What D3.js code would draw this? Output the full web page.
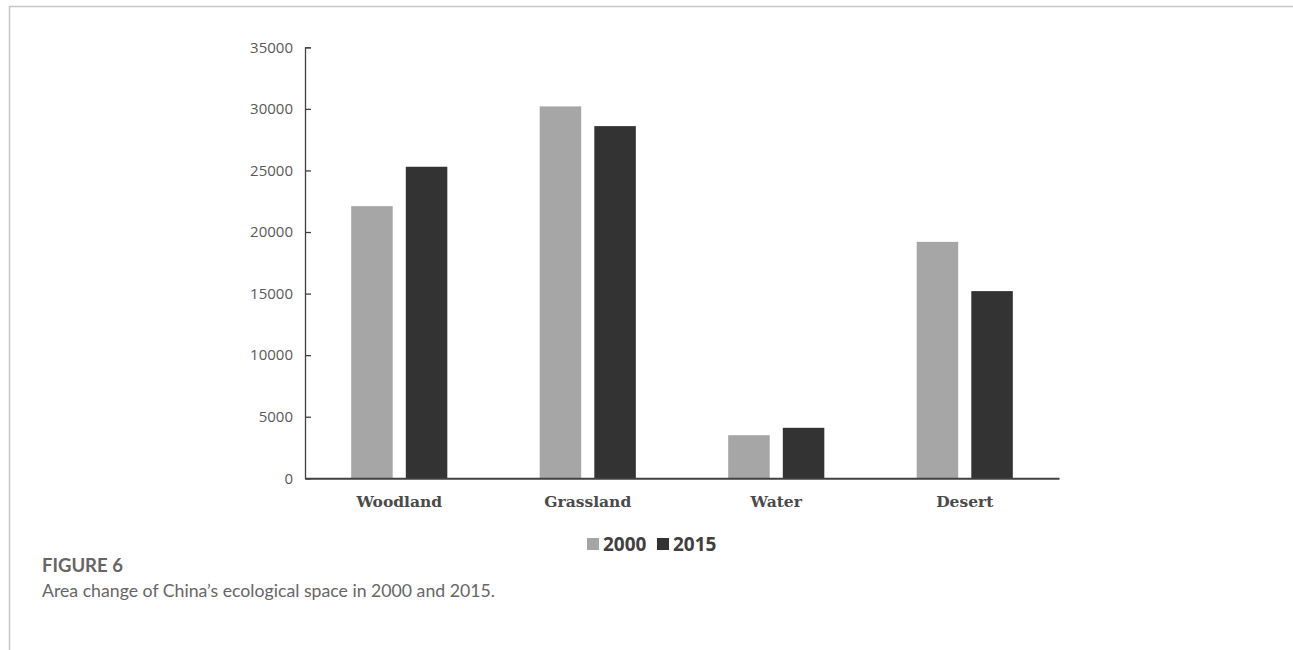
<!DOCTYPE html>
<html>
<head>
<meta charset="utf-8">
<script src="https://cdn.jsdelivr.net/npm/d3@7"></script>
<style>
  body { margin: 0; background: #fff; }
  svg { display: block; }
</style>
</head>
<body>
<div id="chart"></div>
<script>
// data
const categories = ["Woodland", "Grassland", "Water", "Desert"];
const years = ["2000", "2015"];
const values2000 = [22100, 30200, 3500, 19200];
const values2015 = [25300, 28600, 4100, 15200];
const yTicks = [0, 5000, 10000, 15000, 20000, 25000, 30000, 35000];

const W = 1293, H = 650;
const colors = { "2000": "#a6a6a6", "2015": "#333333" };

const svg = d3.select("#chart").append("svg")
    .attr("width", W)
    .attr("height", H);

// page frame (top + left rule)
svg.append("path")
    .attr("d", "M9.5,650 V6.5 H1293")
    .attr("fill", "none")
    .attr("stroke", "#c8c8c8")
    .attr("stroke-width", 1.5);

const plotLeft = 305, plotRight = 1059, plotTop = 47.3, plotBottom = 478.3;

const x = d3.scaleBand().domain(categories).range([plotLeft, plotRight])
    .paddingInner(0.49).paddingOuter(0.245);
const xs = d3.scaleBand().domain(years).range([0, x.bandwidth()])
    .paddingInner(0.24);
const y = d3.scaleLinear().domain([0, 35000]).range([plotBottom, plotTop]);

const rows = categories.map((c, i) => ({ cat: c, vals: [values2000[i], values2015[i]] }));

// bars
const g = svg.append("g");
g.selectAll("g.grp")
    .data(rows)
    .join("g")
    .attr("class", "grp")
    .attr("transform", d => "translate(" + x(d.cat) + ",0)")
    .selectAll("rect")
    .data(d => d.vals.map((v, j) => ({ year: years[j], v: v })))
    .join("rect")
    .attr("x", d => xs(d.year))
    .attr("y", d => y(d.v))
    .attr("width", xs.bandwidth())
    .attr("height", d => y(0) - y(d.v))
    .attr("fill", d => colors[d.year]);

// y axis
const yAxis = svg.append("g")
    .attr("transform", "translate(" + plotLeft + ",0)")
    .call(d3.axisLeft(y).tickValues(yTicks).tickSize(-6).tickPadding(12).tickFormat(d3.format("d")));
yAxis.select(".domain").attr("stroke", "#404040").attr("stroke-width", 1.3);
yAxis.selectAll(".tick line").attr("stroke", "#404040").attr("stroke-width", 1.3);
yAxis.selectAll(".tick").filter(d => d === 0).select("line").remove();
yAxis.selectAll(".tick text")
    .attr("fill", "#595959")
    .style("font-family", "'Open Sans', 'DejaVu Sans', sans-serif")
    .style("font-size", "15px");

// x axis
const xAxis = svg.append("g")
    .attr("transform", "translate(0," + plotBottom + ")")
    .call(d3.axisBottom(x).tickSize(0).tickPadding(18).tickSizeOuter(0));
xAxis.select(".domain").attr("stroke", "#404040").attr("stroke-width", 2);
xAxis.selectAll(".tick text")
    .attr("fill", "#4a4a4a")
    .style("font-family", "'DejaVu Serif', 'Liberation Serif', serif")
    .style("font-weight", "bold")
    .style("font-size", "15.5px");

// legend
const legend = svg.append("g").attr("transform", "translate(587,538)");
const legendItems = [
    { year: years[0], dx: 0 },
    { year: years[1], dx: 70 }
];
const li = legend.selectAll("g")
    .data(legendItems)
    .join("g")
    .attr("transform", d => "translate(" + d.dx + ",0)");
li.append("rect")
    .attr("width", 12).attr("height", 12)
    .attr("fill", d => colors[d.year]);
li.append("text")
    .attr("x", 16).attr("y", 13)
    .attr("fill", "#404040")
    .style("font-family", "'Open Sans', sans-serif")
    .style("font-weight", "bold")
    .style("font-size", "19px")
    .text(d => d.year);

// caption
svg.append("text")
    .attr("x", 42).attr("y", 572)
    .attr("fill", "#666")
    .style("font-family", "Lato, 'Open Sans', sans-serif")
    .style("font-weight", "bold")
    .style("font-size", "18.5px")
    .text("FIGURE 6");
svg.append("text")
    .attr("x", 42).attr("y", 597)
    .attr("fill", "#666")
    .style("font-family", "Lato, 'Open Sans', sans-serif")
    .style("font-size", "17.7px")
    .text("Area change of China\u2019s ecological space in 2000 and 2015.");
</script>
</body>
</html>
